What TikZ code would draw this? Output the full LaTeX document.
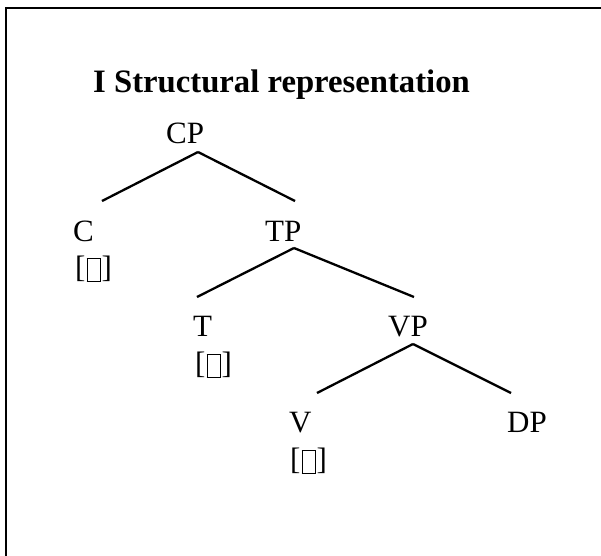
\documentclass[tikz,border=0pt]{standalone}
\usepackage{fontspec}
\setmainfont{Liberation Serif}
\usetikzlibrary{positioning}
\newcommand{\featbox}{[\kern1pt\raisebox{-0.13em}{\setlength\fboxsep{0pt}\setlength\fboxrule{0.9pt}\fbox{\rule{0pt}{0.72em}\hspace{0.4em}}}\kern1pt]}
\begin{document}
\begin{tikzpicture}
[x=1pt,y=-1pt,%
  branchDecorate/.style={-,line width=2.3pt},%
  catDecorate/.style={inner sep=0pt,anchor=base west,font=\fontsize{31}{37}\selectfont}]
\useasboundingbox (0,0) rectangle (601,555);
%% frame
\draw[line width=2pt] (6,560) -- (6,8) -- (606,8);
%% title
\node (title) at (93,92) [catDecorate,font=\fontsize{32.7}{39}\selectfont\bfseries] {I Structural representation};
%% categories
\foreach \nodename/\nodelabel/\x/\y in {
  cp/CP/166/143, c/C/73/241, tp/TP/265/241, t/T/193/336,
  vp/VP/388/336, v/V/289/432, dp/DP/507/432}
{
  \node (\nodename) at (\x,\y) [catDecorate] {\nodelabel};
}
%% features
\foreach \nodename/\x/\y in {cf/75/277, tf/195/373, vf/290/469}
{
  \node (\nodename) at (\x,\y) [catDecorate] {\featbox};
}
%% branches
\path
\foreach \startnode/\sx/\sy/\endnode/\ex/\ey in {
  cp/32/9/c/29/-40, cp/32/9/tp/30/-40, tp/29/7/t/4/-39,
  tp/29/7/vp/26/-39, vp/25/8/v/28/-39, vp/25/8/dp/4/-39}
{
  ([shift={(\sx,\sy)}]\startnode.base west) edge[branchDecorate] ([shift={(\ex,\ey)}]\endnode.base west)
};
\end{tikzpicture}
\end{document}
